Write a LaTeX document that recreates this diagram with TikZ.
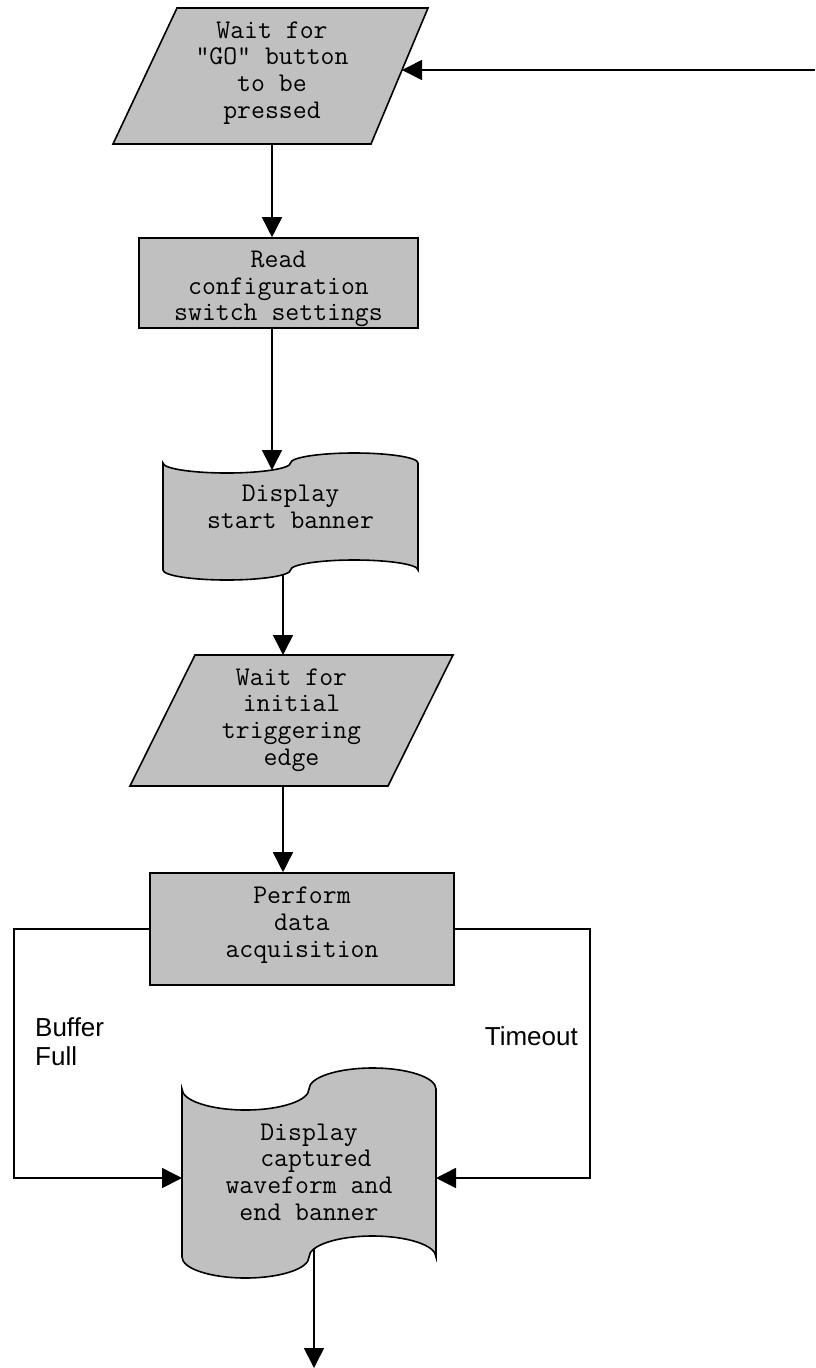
\documentclass[tikz,border=0pt]{standalone}
\usepackage{fontspec}
\usetikzlibrary{arrows.meta}
\newfontfamily\arialfont{Liberation Sans}
\definecolor{boxgray}{HTML}{C0C0C0}
\newcommand{\drawtape}[5]{%
  \pgfmathsetmacro{\tpA}{#1}%
  \pgfmathsetmacro{\tpB}{#1+#3/4}%
  \pgfmathsetmacro{\tpC}{#1+#3/2}%
  \pgfmathsetmacro{\tpD}{#1+3*#3/4}%
  \pgfmathsetmacro{\tpE}{#1+#3}%
  \pgfmathsetmacro{\tpR}{#3/4*0.5523}%
  \pgfmathsetmacro{\tpK}{#5*0.5523}%
  \pgfmathsetmacro{\tpYa}{#2+#5}%
  \pgfmathsetmacro{\tpYd}{#2+2*#5}%
  \pgfmathsetmacro{\tpYh}{#2}%
  \pgfmathsetmacro{\tpYb}{#2+#4-#5}%
  \pgfmathsetmacro{\tpYbd}{#2+#4}%
  \pgfmathsetmacro{\tpYbh}{#2+#4-2*#5}%
  \draw[shapebox] (\tpA,\tpYa)
    .. controls (\tpA,\tpYa+\tpK) and (\tpB-\tpR,\tpYd) .. (\tpB,\tpYd)
    .. controls (\tpB+\tpR,\tpYd) and (\tpC,\tpYa+\tpK) .. (\tpC,\tpYa)
    .. controls (\tpC,\tpYa-\tpK) and (\tpD-\tpR,\tpYh) .. (\tpD,\tpYh)
    .. controls (\tpD+\tpR,\tpYh) and (\tpE,\tpYa-\tpK) .. (\tpE,\tpYa)
    -- (\tpE,\tpYb)
    .. controls (\tpE,\tpYb-\tpK) and (\tpD+\tpR,\tpYbh) .. (\tpD,\tpYbh)
    .. controls (\tpD-\tpR,\tpYbh) and (\tpC,\tpYb-\tpK) .. (\tpC,\tpYb)
    .. controls (\tpC,\tpYb+\tpK) and (\tpB+\tpR,\tpYbd) .. (\tpB,\tpYbd)
    .. controls (\tpB-\tpR,\tpYbd) and (\tpA,\tpYb+\tpK) .. (\tpA,\tpYb)
    -- cycle;%
}
\begin{document}
\begin{tikzpicture}[x=1pt,y=-1pt,
  shapebox/.style={draw=black, fill=boxgray, line width=1.6pt, line join=miter},
  txt/.style={font=\ttfamily\fontsize{27}{26.7}\selectfont, align=center, inner sep=0pt},
  lbl/.style={font=\arialfont\fontsize{26}{29}\selectfont, align=left, inner sep=0pt},
  rectbox/.style={shapebox, rectangle, inner sep=0pt},
  arr/.style={draw=black, line width=1.6pt, -{Triangle[length=20pt,width=20pt]}},
  plain/.style={draw=black, line width=1.6pt}]
\useasboundingbox (0,0) rectangle (815,1368);

% --- Wait for GO (parallelogram)
\draw[shapebox] (177,8) -- (428,8) -- (371,144) -- (113,144) -- cycle;
\node[txt] (p1) at (272,73) {Wait for\\“GO” button\\to be\\pressed};
\coordinate (p1s) at (272,144);
\coordinate (p1e) at (402,70);
\coordinate (inR) at (815,70);

% --- Read configuration (rectangle)
\node[rectbox, minimum width=279pt, minimum height=90pt] (r1) at (278.5,283) {};
\node[txt] (r1t) at (278.5,289) {Read\\configuration\\switch settings};

% --- Display start banner (tape)
\drawtape{163}{453}{255}{127}{10}
\node[txt] (b1) at (290.5,507) {Display\\start banner};
\coordinate (b1n) at (272,470);
\coordinate (b1s) at (283,574.7);

% --- Wait for initial triggering edge (parallelogram)
\draw[shapebox] (195,655) -- (453,655) -- (388,786) -- (130,786) -- cycle;
\node[txt] (p2) at (291.5,720) {Wait for\\initial\\triggering\\edge};
\coordinate (p2n) at (283,655);
\coordinate (p2s) at (283,786);

% --- Perform data acquisition (rectangle)
\node[rectbox, minimum width=304pt, minimum height=112pt] (r2) at (302,929) {};
\node[txt] (r2t) at (302,925) {Perform\\data\\acquisition};

% --- Display captured waveform (tape)
\drawtape{182}{1068}{254}{210}{21}
\node[txt] (d2) at (309,1172) {Display\\\phantom{x}captured\\waveform and\\end banner};
\coordinate (d2w) at (182,1178);
\coordinate (d2e) at (436,1178);
\coordinate (d2s) at (314,1249);
\coordinate (outS) at (314,1368);

% --- side routes
\coordinate (lcol) at (14,0);
\coordinate (rcol) at (590,0);

% --- labels
\node[lbl, anchor=west] (buf) at (35,1042) {Buffer\\Full};
\node[lbl, anchor=base east] (tmo) at (578,1045) {Timeout};

% --- connectors
\draw[arr] (inR) -- (p1e);
\draw[arr] (p1s) -- (p1s |- r1.north);
\draw[arr] (b1n |- r1.south) -- (b1n);
\draw[arr] (b1s) -- (p2n);
\draw[arr] (p2s) -- (p2s |- r2.north);
\draw[arr] (r2.west) -- (lcol |- r2.west) |- (d2w);
\draw[arr] (r2.east) -- (rcol |- r2.east) |- (d2e);
\draw[arr] (d2s) -- (outS);
\end{tikzpicture}
\end{document}
